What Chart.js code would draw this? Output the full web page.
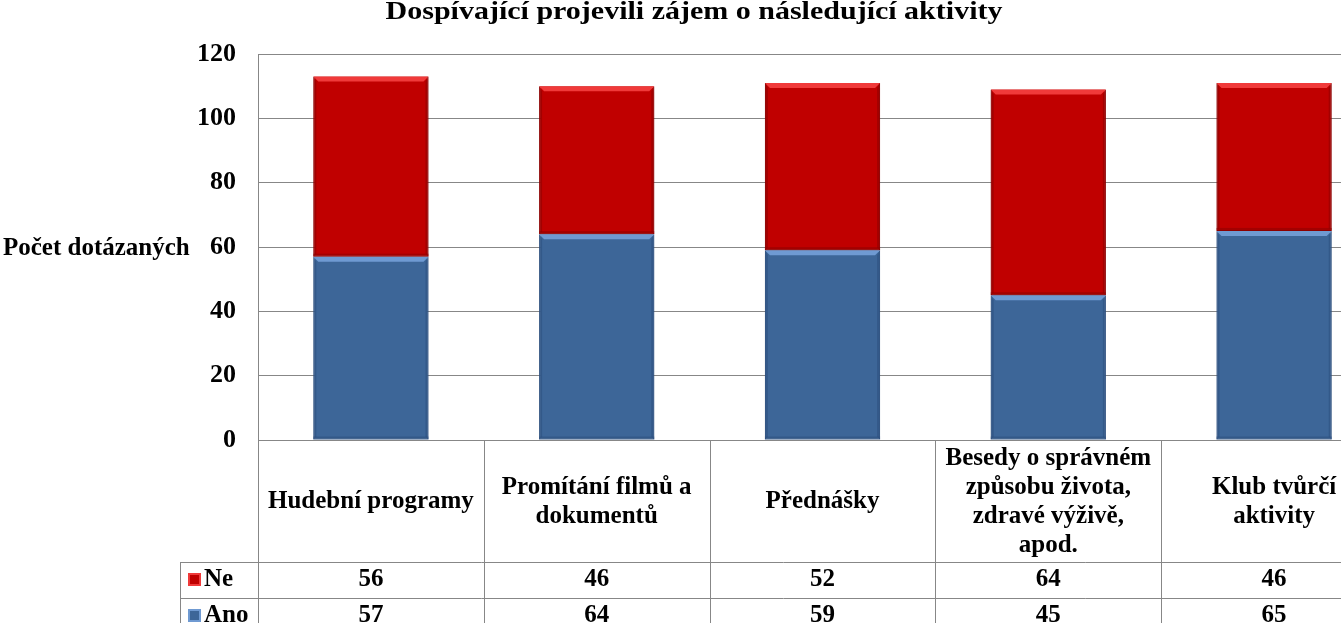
<!DOCTYPE html>
<html>
<head>
<meta charset="utf-8">
<script src="https://cdn.jsdelivr.net/npm/chart.js@4.4.0/dist/chart.umd.min.js"></script>
<style>
  html, body { margin: 0; padding: 0; background: #fff; overflow: hidden; }
  #wrap { position: relative; width: 1395px; height: 640px; }
</style>
</head>
<body>
<div id="wrap"><canvas id="chart"></canvas></div>
<script>
const categories = [
    ['Hudební programy'],
    ['Promítání filmů a', 'dokumentů'],
    ['Přednášky'],
    ['Besedy o správném', 'způsobu života,', 'zdravé výživě,', 'apod.'],
    ['Klub tvůrčí', 'aktivity'],
];
const anoValues = [57, 64, 59, 45, 65];
const neValues = [56, 46, 52, 64, 46];
const yTicks = [0, 20, 40, 60, 80, 100, 120];

const FONT = '"Liberation Serif", "Times New Roman", serif';
const BLUE = '#3D6698';
const RED = '#C00000';
const GRID = '#878787';
const bevel = {
    Ano: { light: '#6F9AD2', dark: '#2B4F7E' },
    Ne: { light: '#F03A3A', dark: '#8A0000' },
};

// light top edge and dark sides, like the office 3D bar style
const barBevel = {
    id: 'barBevel',
    afterDatasetsDraw(chart) {
        const { ctx } = chart;
        chart.data.datasets.forEach((ds, di) => {
            const b = bevel[ds.label];
            chart.getDatasetMeta(di).data.forEach((bar) => {
                const l = bar.x - bar.width / 2, r = bar.x + bar.width / 2;
                const t = bar.y, btm = bar.base;
                const e = 5;
                ctx.save();
                ctx.fillStyle = b.light;
                ctx.beginPath();
                ctx.moveTo(l, t); ctx.lineTo(r, t); ctx.lineTo(r - e, t + e); ctx.lineTo(l + e, t + e);
                ctx.closePath(); ctx.fill();
                ctx.fillStyle = b.dark;
                ctx.globalAlpha = 0.55;
                ctx.beginPath();
                ctx.moveTo(l, t); ctx.lineTo(l + 3, t + e); ctx.lineTo(l + 3, btm - 3); ctx.lineTo(l, btm);
                ctx.closePath(); ctx.fill();
                ctx.beginPath();
                ctx.moveTo(r, t); ctx.lineTo(r - 3, t + e); ctx.lineTo(r - 3, btm - 3); ctx.lineTo(r, btm);
                ctx.closePath(); ctx.fill();
                ctx.fillRect(l, btm - 3, r - l, 3);
                ctx.restore();
            });
        });
    }
};

// table under the plot, drawn from the x scale positions
const dataTable = {
    id: 'dataTable',
    afterDraw(chart) {
        const { ctx, chartArea } = chart;
        const x = chart.scales.x;
        const step = x.width / categories.length;
        const top = chartArea.bottom;
        const headBottom = top + 122;
        const rowH = 36;
        const legendLeft = 180;
        const right = x.right;

        ctx.save();
        ctx.strokeStyle = GRID;
        ctx.lineWidth = 1;
        ctx.beginPath();
        ctx.moveTo(chartArea.left, top + 0.5);
        ctx.lineTo(right, top + 0.5);
        for (let r = 0; r < 2; r++) {
            const yy = Math.round(headBottom + r * rowH) + 0.5;
            ctx.moveTo(legendLeft, yy);
            ctx.lineTo(right, yy);
        }
        for (let i = 0; i <= categories.length; i++) {
            const xx = Math.round(x.left + i * step) + 0.5;
            ctx.moveTo(xx, top);
            ctx.lineTo(xx, chart.height);
        }
        ctx.moveTo(legendLeft + 0.5, headBottom);
        ctx.lineTo(legendLeft + 0.5, chart.height);
        ctx.stroke();

        ctx.fillStyle = '#000';
        ctx.textAlign = 'center';
        ctx.textBaseline = 'middle';
        ctx.font = 'bold 25px ' + FONT;
        const lineH = 29;
        categories.forEach((lines, i) => {
            const cx = x.getPixelForValue(i);
            const cy = top + 62;
            lines.forEach((t, k) => {
                ctx.fillText(t, cx, cy + (k - (lines.length - 1) / 2) * lineH);
            });
            ctx.fillText(String(neValues[i]), cx, headBottom + rowH / 2);
            ctx.fillText(String(anoValues[i]), cx, headBottom + rowH * 1.5);
        });

        // legend keys
        const keys = [['Ne', RED, bevel.Ne.light], ['Ano', BLUE, bevel.Ano.light]];
        keys.forEach(([name, col, light], r) => {
            const cy = headBottom + rowH * (r + 0.5);
            ctx.fillStyle = light;
            ctx.fillRect(188, cy - 7, 13, 13);
            ctx.fillStyle = col;
            ctx.fillRect(190, cy - 5, 9, 9);
            ctx.fillStyle = '#000';
            ctx.textAlign = 'left';
            ctx.fillText(name, 204, cy);
        });

        // y axis title and chart title
        ctx.textAlign = 'left';
        ctx.fillText('Počet dotázaných', 3, 249);
        ctx.textAlign = 'center';
        ctx.font = 'bold 25px ' + FONT;
        ctx.save();
        ctx.translate(694, 13);
        ctx.scale(1.2, 1);
        ctx.fillText('Dospívající projevili zájem o následující aktivity', 0, 0);
        ctx.restore();
        ctx.restore();
    }
};

new Chart(document.getElementById('chart'), {
    type: 'bar',
    data: {
        labels: categories,
        datasets: [
            {
                label: 'Ano',
                data: anoValues,
                backgroundColor: BLUE,
                borderColor: '#2F5280',
                borderWidth: 1,
                borderSkipped: false,
            },
            {
                label: 'Ne',
                data: neValues,
                backgroundColor: RED,
                borderColor: '#8E0000',
                borderWidth: 1,
                borderSkipped: false,
            },
        ],
    },
    options: {
        responsive: true,
        maintainAspectRatio: false,
        animation: false,
        layout: { padding: { top: 54, bottom: 200, left: 0, right: 8 } },
        datasets: { bar: { barPercentage: 0.51, categoryPercentage: 1 } },
        plugins: {
            legend: { display: false },
            tooltip: { enabled: false },
            title: { display: false },
        },
        scales: {
            x: { stacked: true, display: false },
            y: {
                stacked: true,
                min: 0,
                max: 120,
                afterBuildTicks: (s) => { s.ticks = yTicks.map(v => ({ value: v })); },
                afterFit: (s) => { s.width = 258; },
                grid: { color: GRID, lineWidth: 1, tickLength: 0 },
                border: { color: GRID },
                ticks: {
                    color: '#000',
                    padding: 22,
                    font: { family: FONT, size: 26, weight: 'bold' },
                },
            },
        },
    },
    plugins: [barBevel, dataTable],
});
</script>
</body>
</html>
